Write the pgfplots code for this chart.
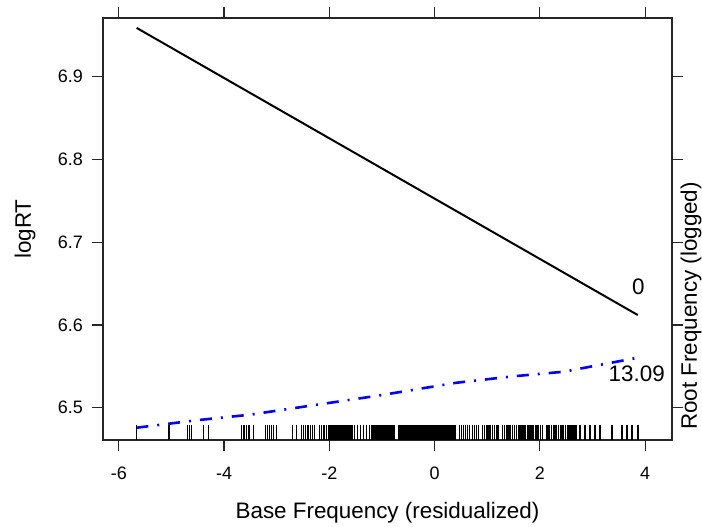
\documentclass[border=0pt]{standalone}
\usepackage{fontspec}
\setmainfont{Liberation Sans}
\usepackage{pgfplots}
\pgfplotsset{compat=1.18}
\usetikzlibrary{calc}
\newcommand{\lblfont}{\fontsize{11.2}{13}\selectfont}
\newcommand{\tckfont}{\fontsize{9}{10}\selectfont}
\begin{document}
\begin{tikzpicture}
\begin{axis}[
  scale only axis, width=284.5pt, height=211pt,
  xmin=-6.30, xmax=4.51, ymin=6.461, ymax=6.971,
  xtick={-6,-4,-2,0,2,4}, xticklabels={-6,-4,-2,0,2,4},
  ytick={6.5,6.6,6.7,6.8,6.9}, yticklabels={6.5,6.6,6.7,6.8,6.9},
  tick align=outside, tick pos=both,
  xticklabel pos=lower, yticklabel pos=left,
  major tick length=5.5pt,
  every tick/.style={black!85, line width=0.6pt},
  axis line style={black!85, line width=0.6pt},
  tick label style={font=\tckfont},
  xticklabel style={yshift=-4.5pt},
  yticklabel style={xshift=-1pt},
  clip=true,
]
% fitted effect
\addplot[black, line width=1pt] coordinates {(-5.66,6.959)(3.86,6.612)};
% root frequency line
\addplot[blue, line width=1.3pt, dash pattern=on 6pt off 4.5pt on 1pt off 4.5pt] coordinates {
  (-5.665,6.4758)(-4.5,6.4850)(-3.517,6.4915)(-2.3,6.5030)(-1.084,6.5145)
  (0.418,6.5302)(1.5,6.5380)(2.452,6.5435)(3.859,6.5604)};
% rug
\addplot[only marks, mark=|, mark size=3.75pt, mark options={line width=0.8pt, black}] coordinates {
  (-5.665,6.4703)(-5.057,6.4703)(-5.038,6.4703)(-4.696,6.4703)(-4.658,6.4703)(-4.620,6.4703)
  (-4.392,6.4703)(-4.297,6.4703)(-3.669,6.4703)(-3.622,6.4703)(-3.574,6.4703)(-3.527,6.4703)
  (-3.441,6.4703)(-3.213,6.4703)(-3.175,6.4703)(-3.137,6.4703)(-3.099,6.4703)(-3.061,6.4703)
  (-3.004,6.4703)(-2.700,6.4703)(-2.624,6.4703)(-2.529,6.4703)(-2.490,6.4703)(-2.452,6.4703)
  (-2.405,6.4703)(-2.357,6.4703)(-2.319,6.4703)(-2.281,6.4703)(-2.186,6.4703)(-2.148,6.4703)
  (-2.101,6.4703)(-2.053,6.4703)(-2.015,6.4703)(-1.987,6.4703)(-1.958,6.4703)(-1.930,6.4703)
  (-1.901,6.4703)(-1.873,6.4703)(-1.844,6.4703)(-1.816,6.4703)(-1.787,6.4703)(-1.759,6.4703)
  (-1.730,6.4703)(-1.702,6.4703)(-1.673,6.4703)(-1.644,6.4703)(-1.616,6.4703)(-1.587,6.4703)
  (-1.559,6.4703)(-1.521,6.4703)(-1.464,6.4703)(-1.407,6.4703)(-1.350,6.4703)(-1.293,6.4703)
  (-1.236,6.4703)(-1.198,6.4703)(-1.169,6.4703)(-1.141,6.4703)(-1.112,6.4703)(-1.084,6.4703)
  (-1.055,6.4703)(-1.027,6.4703)(-0.998,6.4703)(-0.970,6.4703)(-0.941,6.4703)(-0.913,6.4703)
  (-0.884,6.4703)(-0.856,6.4703)(-0.827,6.4703)(-0.798,6.4703)(-0.770,6.4703)(-0.684,6.4703)
  (-0.656,6.4703)(-0.627,6.4703)(-0.599,6.4703)(-0.570,6.4703)(-0.542,6.4703)(-0.513,6.4703)
  (-0.485,6.4703)(-0.456,6.4703)(-0.428,6.4703)(-0.399,6.4703)(-0.371,6.4703)(-0.342,6.4703)
  (-0.314,6.4703)(-0.285,6.4703)(-0.257,6.4703)(-0.228,6.4703)(-0.200,6.4703)(-0.171,6.4703)
  (-0.143,6.4703)(-0.114,6.4703)(-0.086,6.4703)(-0.057,6.4703)(-0.029,6.4703)(0.000,6.4703)
  (0.029,6.4703)(0.057,6.4703)(0.086,6.4703)(0.114,6.4703)(0.143,6.4703)(0.171,6.4703)
  (0.200,6.4703)(0.228,6.4703)(0.257,6.4703)(0.285,6.4703)(0.314,6.4703)(0.342,6.4703)
  (0.371,6.4703)(0.399,6.4703)(0.475,6.4703)(0.513,6.4703)(0.551,6.4703)(0.589,6.4703)
  (0.627,6.4703)(0.665,6.4703)(0.722,6.4703)(0.760,6.4703)(0.798,6.4703)(0.836,6.4703)
  (0.913,6.4703)(0.951,6.4703)(0.990,6.4703)(1.030,6.4703)(1.065,6.4703)(1.103,6.4703)
  (1.141,6.4703)(1.180,6.4703)(1.217,6.4703)(1.293,6.4703)(1.331,6.4703)(1.370,6.4703)
  (1.408,6.4703)(1.445,6.4703)(1.483,6.4703)(1.521,6.4703)(1.559,6.4703)(1.597,6.4703)
  (1.616,6.4703)
  (1.644,6.4703)(1.673,6.4703)(1.702,6.4703)(1.730,6.4703)(1.768,6.4703)(1.797,6.4703)
  (1.825,6.4703)(1.854,6.4703)(1.882,6.4703)(1.920,6.4703)(1.949,6.4703)(1.977,6.4703)
  (2.015,6.4703)(2.053,6.4703)(2.129,6.4703)(2.158,6.4703)(2.186,6.4703)(2.224,6.4703)
  (2.262,6.4703)(2.291,6.4703)(2.319,6.4703)(2.357,6.4703)(2.395,6.4703)(2.424,6.4703)
  (2.452,6.4703)(2.490,6.4703)(2.529,6.4703)(2.567,6.4703)(2.605,6.4703)(2.643,6.4703)
  (2.681,6.4703)(2.757,6.4703)(2.852,6.4703)(2.947,6.4703)(3.042,6.4703)(3.137,6.4703)
  (3.365,6.4703)(3.555,6.4703)(3.650,6.4703)(3.745,6.4703)(3.859,6.4703)};
\node[font=\lblfont] at (axis cs:3.869,6.646) {0};
\node[font=\lblfont] at (axis cs:3.84,6.5405) {13.09};
\end{axis}
% labels
\node[font=\lblfont, anchor=base] at ($(current axis.south)+(0,-39.5pt)$) {Base Frequency (residualized)};
\node[font=\lblfont, rotate=90, anchor=center] at ($(current axis.west)+(-39pt,0)$) {logRT};
\node[font=\lblfont, rotate=90, anchor=center] at ($(current axis.south east)+(9.5pt,67pt)$) {Root Frequency (logged)};
\pgfresetboundingbox
\useasboundingbox ($(current axis.south west)+(-51.5pt,-43.5pt)$) rectangle ($(current axis.north east)+(15pt,9pt)$);
\end{tikzpicture}
\end{document}
